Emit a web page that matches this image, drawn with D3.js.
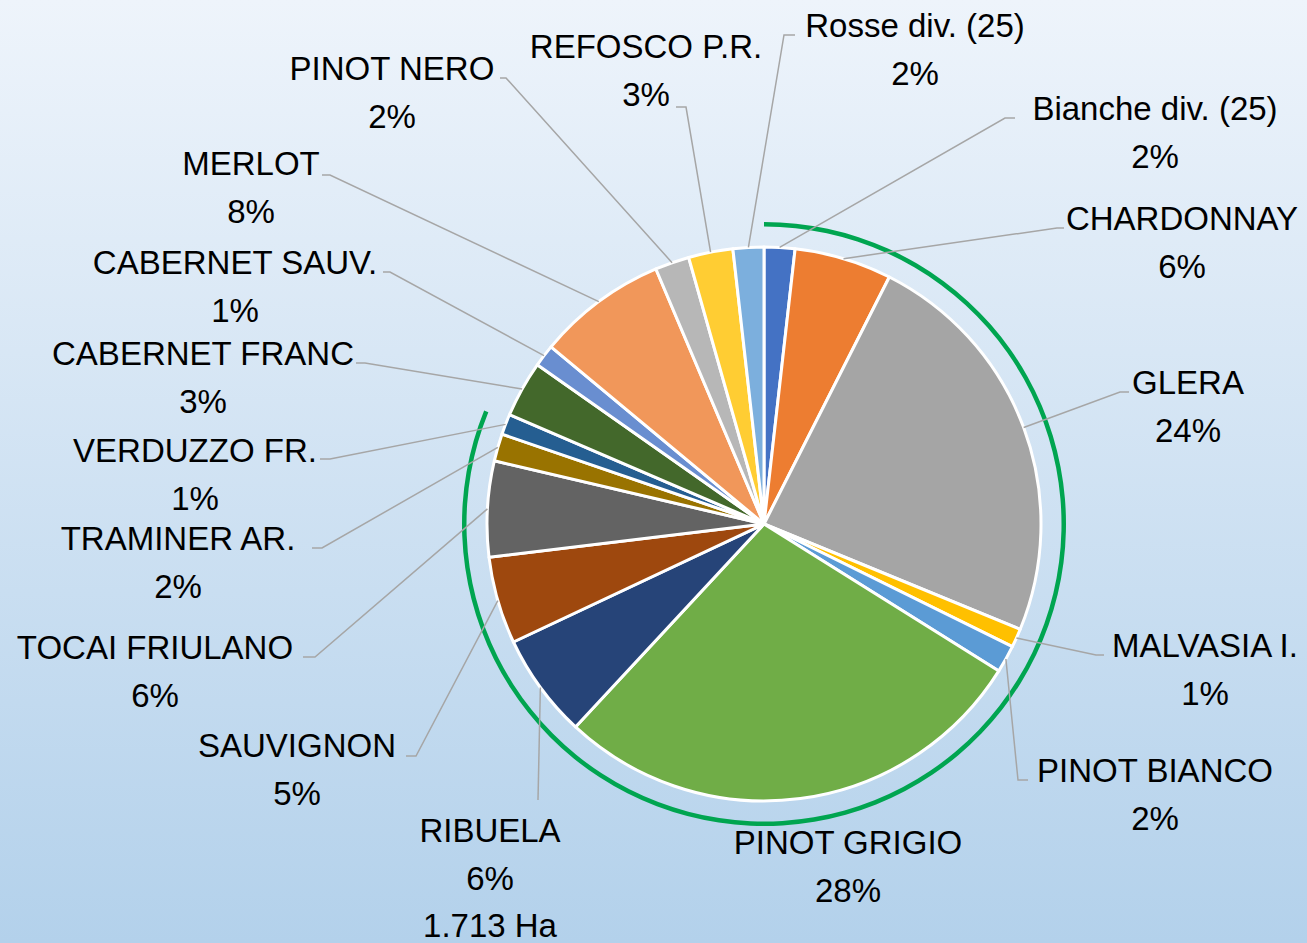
<!DOCTYPE html>
<html>
<head>
<meta charset="utf-8">
<script src="https://cdn.jsdelivr.net/npm/d3@7"></script>
<style>
  html, body { margin: 0; padding: 0; }
  #chart { width: 1307px; height: 943px; }
  text { font-family: "Liberation Sans", Arial, sans-serif; }
</style>
</head>
<body>
<div id="chart"></div>
<script>
//Dati: vitigni, ettari stimati e tipo (bianca / rossa)
const vitigni = ['Bianche div. (25)', 'CHARDONNAY', 'GLERA', 'MALVASIA I.', 'PINOT BIANCO', 'PINOT GRIGIO',
    'RIBUELA', 'SAUVIGNON', 'TOCAI FRIULANO', 'TRAMINER AR.', 'VERDUZZO FR.', 'CABERNET FRANC',
    'CABERNET SAUV.', 'MERLOT', 'PINOT NERO', 'REFOSCO P.R.', 'Rosse div. (25)'];
const ettari = [505, 1600, 6683, 309, 449, 7890, 1713, 1432, 1572, 449, 337, 927, 365, 2134, 562, 730, 505];
const tipo = ['B', 'B', 'B', 'B', 'B', 'B', 'B', 'B', 'B', 'B', 'B', 'R', 'R', 'R', 'R', 'R', 'R'];
const evidenziato = 'RIBUELA';

//Colori fissi (palette Office)
const COLORI = ['#4472C4', '#ED7D31', '#A5A5A5', '#FFC000', '#5B9BD5', '#70AD47', '#264478', '#9E480E',
    '#636363', '#997300', '#255E91', '#43682B', '#698ED0', '#F1975A', '#B7B7B7', '#FFCD33', '#7CAFDD'];
const COLOR_LEADER = '#A6A6A6', COLOR_ARCO = '#00A550';

//Posizione etichette (centro x, baseline prima riga) e gomito della linea guida [x, y, fine x]
const etichette = [
    [1155, 120, 1005, 118, 1015], [1182, 230, 1057, 228, 1064], [1188, 394, 1120, 392, 1129],
    [1205, 657, 1096, 655, 1104], [1155, 782, 1018, 780, 1028], [848, 854, null, null, null],
    [490, 842, 538, 800, 538], [297, 757, 416, 756, 406], [155, 659, 315, 657, 303],
    [178, 550, 322, 548, 312], [195, 462, 330, 459, 320], [203, 365, 365, 363, 356],
    [235, 274, 390, 272, 383], [251, 175, 330, 175, 322], [392, 80, 506, 78, 500],
    [646, 58, 686, 107, 676], [915, 37, 784, 35, 795]
];

let width = 1307, height = 943;
let cx = 764, cy = 524, radius = 277, lineH = 47.5;

let svg = d3.select('#chart')
    .append('svg')
    .attr('width', width)
    .attr('height', height);

//Sfondo sfumato
let grad = svg.append('defs').append('linearGradient')
    .attr('id', 'sfondo')
    .attr('x1', 0).attr('y1', 0).attr('x2', 0).attr('y2', 1);
grad.append('stop').attr('offset', '0%').attr('stop-color', '#EEF4FB');
grad.append('stop').attr('offset', '100%').attr('stop-color', '#B3D1EB');

svg.append('rect')
    .attr('width', width)
    .attr('height', height)
    .attr('fill', 'url(#sfondo)');

let data = vitigni.map(function(d, i) { return { nome: d, ha: ettari[i], tipo: tipo[i], i: i }; });
let totale = d3.sum(ettari);

let pie = d3.pie()
    .sort(null)
    .value(function(d) { return d.ha; });
let arcs = pie(data);

let arc = d3.arc().innerRadius(0).outerRadius(radius);

let g = svg.append('g').attr('transform', 'translate(' + cx + ',' + cy + ')');

g.selectAll('path.fetta')
    .data(arcs)
    .enter()
    .append('path')
    .attr('class', 'fetta')
    .attr('d', arc)
    .attr('fill', function(d) { return COLORI[d.data.i]; })
    .attr('stroke', '#fff')
    .attr('stroke-width', 3)
    .attr('stroke-linejoin', 'round');

//Arco verde attorno alle uve bianche
let bianche = arcs.filter(function(d) { return d.data.tipo === 'B'; });
let arcoVerde = d3.arc()
    .innerRadius(297.5)
    .outerRadius(302)
    .startAngle(d3.min(bianche, function(d) { return d.startAngle; }))
    .endAngle(d3.max(bianche, function(d) { return d.endAngle; }) - 0.02);

g.append('path')
    .attr('d', arcoVerde())
    .attr('fill', COLOR_ARCO);

//Linee guida
let bordo = d3.arc().innerRadius(radius).outerRadius(radius);
arcs.forEach(function(d, i) {
    let e = etichette[i];
    if (e[2] === null) return;
    let p = bordo.centroid(d);
    let pts = [[p[0] + cx, p[1] + cy], [e[2], e[3]], [e[4], e[3]]];
    svg.append('path')
        .attr('d', d3.line()(pts))
        .attr('fill', 'none')
        .attr('stroke', COLOR_LEADER)
        .attr('stroke-width', 1.5);
});

//Etichette
let pct = d3.format('.0%');
let it = d3.formatLocale({ decimal: ',', thousands: '.', grouping: [3], currency: ['', ' €'] });
let num = it.format(',');

arcs.forEach(function(d, i) {
    let e = etichette[i];
    let righe = [d.data.nome, pct(d.data.ha / totale)];
    if (d.data.nome === evidenziato) righe.push(num(d.data.ha) + ' Ha');
    let t = svg.append('text')
        .attr('text-anchor', 'middle')
        .attr('font-size', 33)
        .attr('fill', '#000');
    righe.forEach(function(r, k) {
        t.append('tspan')
            .attr('x', e[0])
            .attr('y', e[1] + k * lineH)
            .text(r);
    });
});
</script>
</body>
</html>
